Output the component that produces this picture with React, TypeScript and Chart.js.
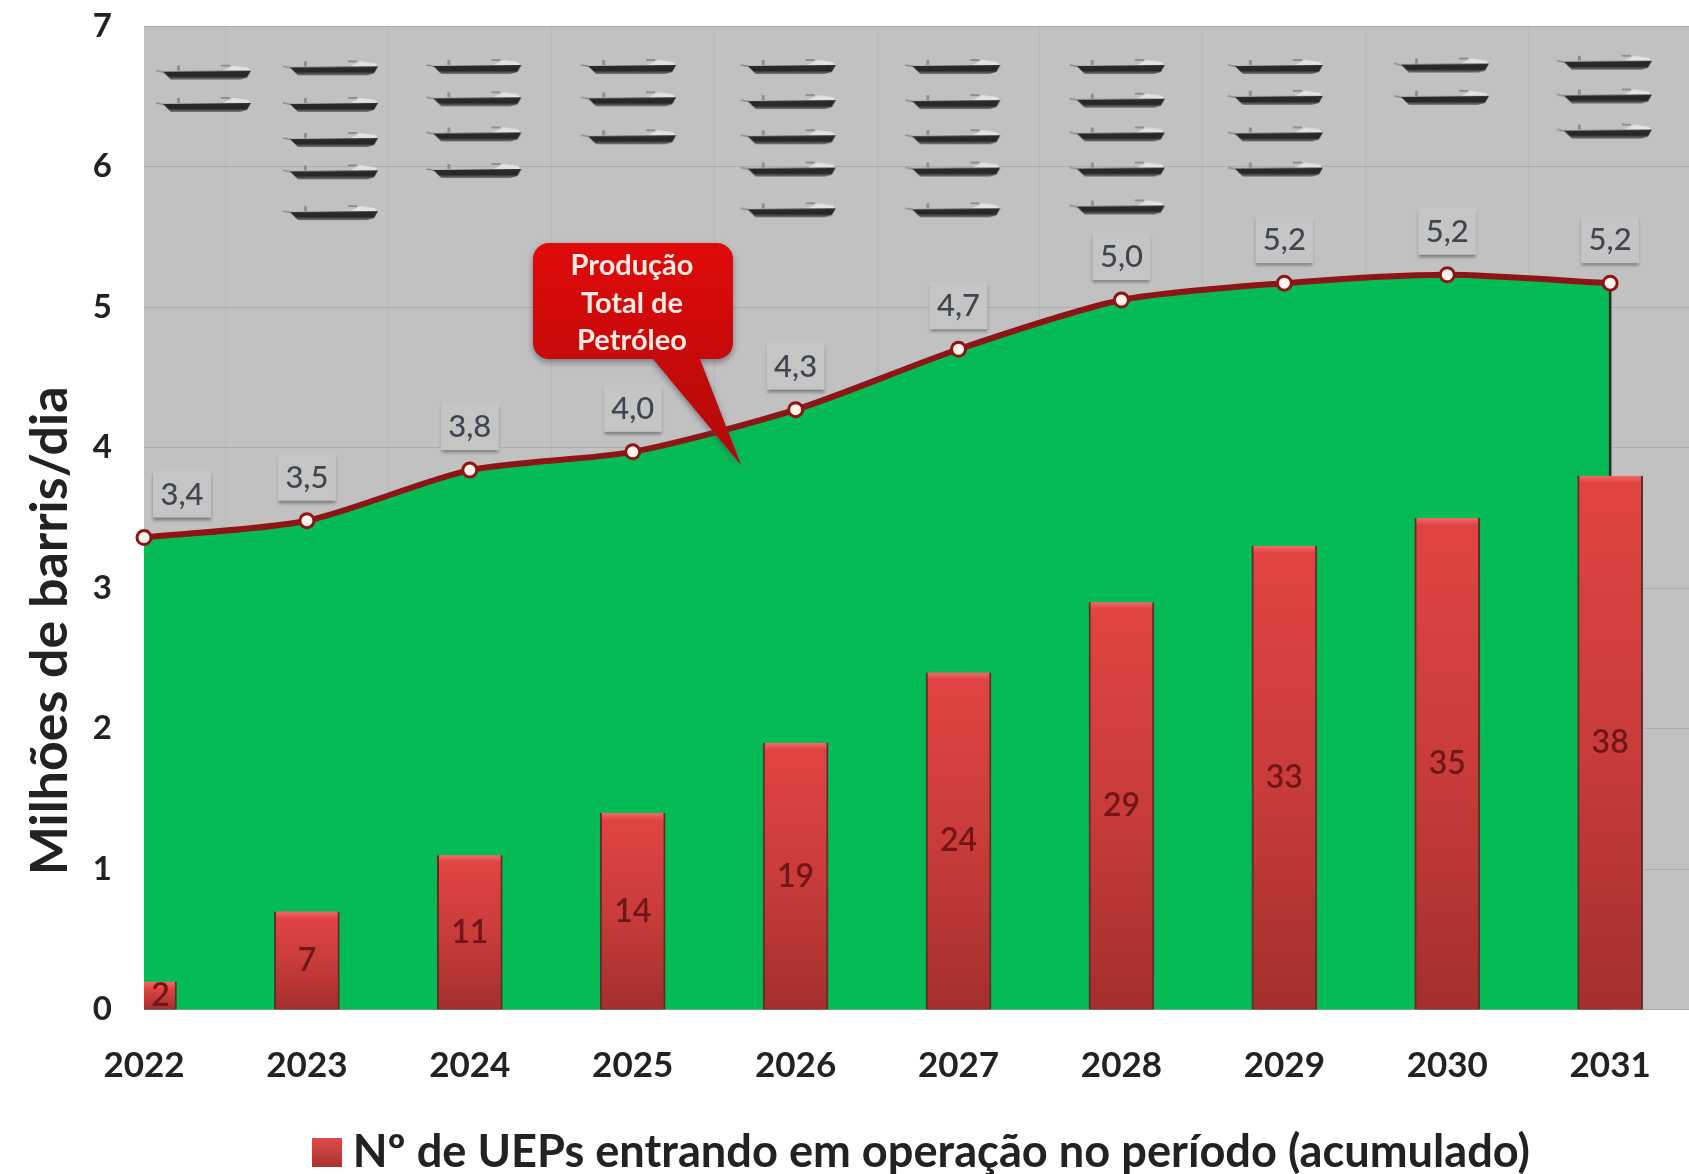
import React, { useEffect, useRef } from "react";
import { Chart, registerables } from "chart.js";

Chart.register(...registerables);

const years = [2022, 2023, 2024, 2025, 2026, 2027, 2028, 2029, 2030, 2031];
const production = [3.36, 3.48, 3.84, 3.97, 4.27, 4.7, 5.05, 5.17, 5.23, 5.17];
const productionLabels = ["3,4", "3,5", "3,8", "4,0", "4,3", "4,7", "5,0", "5,2", "5,2", "5,2"];
const uepCounts = [2, 7, 11, 14, 19, 24, 29, 33, 35, 38];
const shipX = [
  2022.38, 2022.38,
  2023.16, 2023.16, 2023.16, 2023.16, 2023.16,
  2024.04, 2024.04, 2024.04, 2024.04,
  2024.99, 2024.99, 2024.99,
  2025.97, 2025.97, 2025.97, 2025.97, 2025.97,
  2026.98, 2026.98, 2026.98, 2026.98, 2026.98,
  2027.99, 2027.99, 2027.99, 2027.99, 2027.99,
  2028.96, 2028.96, 2028.96, 2028.96,
  2029.98, 2029.98,
  2030.98, 2030.98, 2030.98,
];
const shipY = [
  6.69, 6.46,
  6.72, 6.46, 6.21, 5.98, 5.69,
  6.73, 6.5, 6.25, 5.99,
  6.73, 6.5, 6.23,
  6.73, 6.48, 6.23, 6.0, 5.71,
  6.73, 6.48, 6.23, 6.0, 5.71,
  6.73, 6.49, 6.25, 6.0, 5.73,
  6.73, 6.51, 6.25, 6.0,
  6.74, 6.51,
  6.76, 6.52, 6.27,
];
const calloutLines = ["Produção", "Total de", "Petróleo"];
const yTitle = "Milhões de barris/dia";
const legendText = "Nº de UEPs entrando em operação no período (acumulado)";

const FONT = "Lato, 'Open Sans', sans-serif";

function makeShip() {
  const c = document.createElement("canvas");
  c.width = 102;
  c.height = 26;
  const g = c.getContext("2d")!;
  g.strokeStyle = "#8a8a8a";
  g.lineWidth = 1.5;
  g.beginPath();
  g.moveTo(1, 14);
  g.lineTo(12, 16);
  g.stroke();
  g.fillStyle = "#e2e2e2";
  g.beginPath();
  g.moveTo(68, 14);
  g.lineTo(78, 9);
  g.lineTo(93, 11);
  g.lineTo(95, 14);
  g.closePath();
  g.fill();
  g.fillStyle = "#8f8f8f";
  g.fillRect(22, 9, 3, 5);
  g.fillRect(66, 8, 9, 2);
  const hull = g.createLinearGradient(0, 14, 0, 23);
  hull.addColorStop(0, "#2c2c2c");
  hull.addColorStop(0.6, "#262626");
  hull.addColorStop(1, "#777777");
  g.fillStyle = hull;
  g.beginPath();
  g.moveTo(8, 15);
  g.lineTo(96, 14);
  g.lineTo(92, 21);
  g.lineTo(85, 23);
  g.lineTo(16, 23);
  g.closePath();
  g.fill();
  return c;
}

const overlays = {
  id: "overlays",
  beforeDraw(chart: any) {
    const { ctx, chartArea: a } = chart;
    ctx.save();
    ctx.fillStyle = "#c1c1c1";
    ctx.fillRect(a.left, a.top, a.right - a.left, a.bottom - a.top);
    ctx.restore();
  },
  afterLayout(chart: any) {
    const l = chart.legend;
    if (l) {
      l.left += 85;
      l.right += 85;
      l.top += 11;
      l.bottom += 11;
    }
  },
  afterDraw(chart: any) {
    const { ctx, scales, chartArea: a } = chart;
    const x = scales.x;
    const y = scales.y;
    const y2 = scales.y2;
    ctx.save();

    // legend swatch
    const sw = ctx.createLinearGradient(0, 1138, 0, 1167);
    sw.addColorStop(0, "#e04a48");
    sw.addColorStop(1, "#a83230");
    ctx.fillStyle = sw;
    ctx.fillRect(312, 1138, 30, 29);

    // counts inside the bars
    ctx.textAlign = "center";
    ctx.textBaseline = "middle";
    ctx.font = `600 32px ${FONT}`;
    ctx.fillStyle = "#6f1616";
    years.forEach((yr, i) => {
      const half = 33;
      const cx = x.getPixelForValue(yr);
      const left = Math.max(cx - half, a.left);
      const mid = (y2.getPixelForValue(uepCounts[i]) + y2.getPixelForValue(0)) / 2;
      ctx.fillText(String(uepCounts[i]), (left + cx + half) / 2, mid);
    });

    // value flags above the line
    years.forEach((yr, i) => {
      const cx = x.getPixelForValue(yr) + (i === 0 ? 38 : 0);
      const cy = y.getPixelForValue(production[i]) - 43;
      ctx.fillStyle = "#c5c5c5";
      ctx.shadowColor = "rgba(60,60,60,0.5)";
      ctx.shadowBlur = 3;
      ctx.shadowOffsetY = 3;
      ctx.fillRect(cx - 29, cy - 24, 58, 47);
      ctx.shadowColor = "transparent";
      ctx.shadowBlur = 0;
      ctx.shadowOffsetY = 0;
      ctx.fillStyle = "#3f4650";
      ctx.font = `500 31px ${FONT}`;
      ctx.fillText(productionLabels[i], cx, cy);
    });

    // callout
    ctx.shadowColor = "rgba(70,70,90,0.6)";
    ctx.shadowBlur = 6;
    ctx.shadowOffsetY = 3;
    const grad = ctx.createLinearGradient(0, 243, 0, 465);
    grad.addColorStop(0, "#e00a0a");
    grad.addColorStop(1, "#b00a0a");
    ctx.fillStyle = grad;
    const bx = 533, by = 243, bw = 200, bh = 116, r = 16;
    ctx.beginPath();
    ctx.moveTo(bx + r, by);
    ctx.arcTo(bx + bw, by, bx + bw, by + bh, r);
    ctx.arcTo(bx + bw, by + bh, bx, by + bh, r);
    ctx.lineTo(700, by + bh);
    ctx.lineTo(741, 465);
    ctx.lineTo(653, by + bh);
    ctx.arcTo(bx, by + bh, bx, by, r);
    ctx.arcTo(bx, by, bx + bw, by, r);
    ctx.closePath();
    ctx.fill();
    ctx.shadowColor = "transparent";
    ctx.shadowBlur = 0;
    ctx.shadowOffsetY = 0;
    ctx.fillStyle = "#ffe9e4";
    ctx.font = `bold 29px ${FONT}`;
    calloutLines.forEach((t, i) => ctx.fillText(t, 632, 266 + i * 37.5));
    ctx.restore();
  },
};

export default function App() {
  const ref = useRef<HTMLCanvasElement | null>(null);
  useEffect(() => {
    const ship = makeShip();
    const chart = new Chart(ref.current!, {
      type: "bar",
      data: {
        datasets: [
          {
            type: "scatter",
            label: "Navios",
            data: shipX.map((v, i) => ({ x: v, y: shipY[i] })),
            yAxisID: "y",
            pointStyle: ship as any,
            order: 0,
          },
          {
            type: "line",
            label: "Produção Total de Petróleo",
            data: years.map((v, i) => ({ x: v, y: production[i] })),
            yAxisID: "y",
            borderColor: "#8e1515",
            borderWidth: 6,
            tension: 0.25,
            pointRadius: 7,
            pointBorderWidth: 3,
            pointBackgroundColor: "#fff4ee",
            pointBorderColor: "#8e1515",
            fill: false,
            clip: false as any,
            order: 1,
          },
          {
            type: "bar",
            label: legendText,
            data: years.map((v, i) => ({ x: v, y: uepCounts[i] })),
            yAxisID: "y2",
            barThickness: 65,
            borderWidth: { left: 2, right: 2, top: 0, bottom: 0 },
            borderColor: "#5e2f28",
            backgroundColor: (c: any) => {
              const chart = c.chart;
              if (!chart.chartArea || !c.parsed) return "#c63a3a";
              const top = chart.scales.y2.getPixelForValue(c.parsed.y);
              const bottom = chart.scales.y2.getPixelForValue(0);
              const g = chart.ctx.createLinearGradient(0, top, 0, bottom);
              const s = Math.min(0.3, 7 / Math.max(bottom - top, 1));
              g.addColorStop(0, "#f26a68");
              g.addColorStop(s, "#e04442");
              g.addColorStop(0.5, "#c93c3a");
              g.addColorStop(1, "#a32f2d");
              return g;
            },
            order: 2,
          } as any,
          {
            type: "line",
            label: "Limite",
            data: [
              { x: 2031, y: 0 },
              { x: 2031, y: production[9] },
            ],
            yAxisID: "y",
            borderColor: "#1c2a1e",
            borderWidth: 2.5,
            pointRadius: 0,
            fill: false,
            order: 3,
          },
          {
            type: "line",
            label: "Área",
            data: years.map((v, i) => ({ x: v, y: production[i] })),
            yAxisID: "y",
            borderWidth: 0,
            borderColor: "transparent",
            backgroundColor: "#05bb55",
            tension: 0.25,
            pointRadius: 0,
            fill: "origin",
            order: 4,
          },
        ] as any,
      },
      options: {
        animation: false,
        responsive: false,
        layout: { padding: { top: 26, left: 0, right: 0, bottom: 0 } },
        plugins: {
          tooltip: { enabled: false },
          legend: {
            position: "bottom",
            labels: {
              boxWidth: 1,
              boxHeight: 29,
              padding: 2,
              color: "#222222",
              font: { family: FONT, size: 45.2, weight: "bold" },
              generateLabels: () => [
                {
                  text: legendText,
                  fontColor: "#222222",
                  fillStyle: "transparent",
                  strokeStyle: "transparent",
                  lineWidth: 0,
                  datasetIndex: 2,
                },
              ],
            },
            onClick: () => {},
          },
        },
        scales: {
          x: {
            type: "linear",
            offset: false,
            min: 2022,
            max: 2031.484,
            afterFit: (s: any) => {
              s.height = 107;
              s.paddingLeft = 0;
              s.paddingRight = 0;
            },
            border: { display: false },
            grid: { color: "#b8b8b8", drawTicks: false },
            ticks: {
              stepSize: 1,
              includeBounds: false,
              autoSkip: false,
              maxRotation: 0,
              padding: 35,
              color: "#222222",
              font: { family: FONT, size: 35, weight: "bold" },
              callback: (v: any) => String(v),
            },
          },
          y: {
            min: 0,
            max: 7,
            afterFit: (s: any) => {
              s.width = 144;
              s.paddingTop = 0;
              s.paddingBottom = 0;
              if (!s.__shifted) {
                s.__shifted = true;
                const orig = s.drawTitle.bind(s);
                s.drawTitle = () => {
                  s.ctx.save();
                  s.ctx.translate(0, 113);
                  orig();
                  s.ctx.restore();
                };
              }
            },
            border: { display: false },
            grid: { color: "#adadad", drawTicks: false },
            title: {
              display: true,
              text: yTitle,
              color: "#222222",
              font: { family: FONT, size: 52, weight: "bold" },
              padding: { top: 19, bottom: 0 },
            },
            ticks: {
              stepSize: 1,
              padding: 32,
              color: "#222222",
              font: { family: FONT, size: 33, weight: "bold" },
            },
          },
          y2: { display: false, min: 0, max: 70 },
        },
      },
      plugins: [overlays],
    } as any);
    chart.data.datasets.forEach((_: any, i: number) => {
      (chart.getDatasetMeta(i).controller as any).getMaxOverflow = () => 0;
    });
    chart.update();
    return () => chart.destroy();
  }, []);
  return (
    <canvas
      ref={ref}
      width={1689}
      height={1174}
      style={{ position: "absolute", left: 0, top: 0, display: "block", filter: "blur(0.7px)" }}
    />
  );
}
